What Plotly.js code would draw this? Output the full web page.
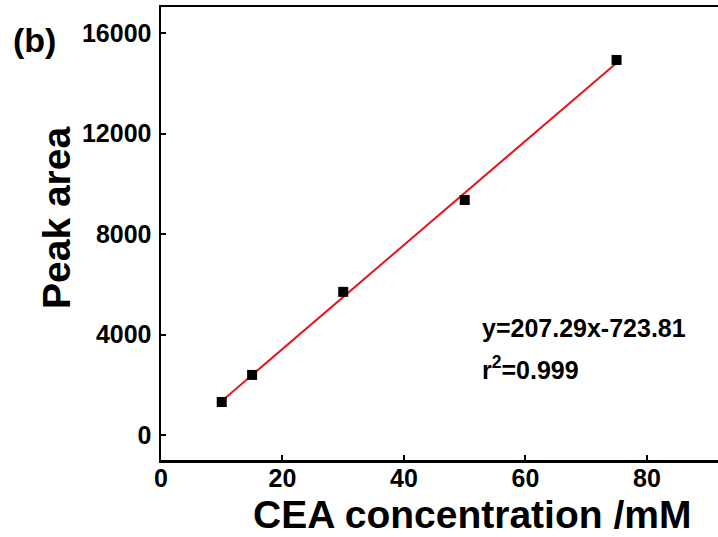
<!DOCTYPE html>
<html>
<head>
<meta charset="utf-8">
<script src="https://cdn.plot.ly/plotly-3.0.1.min.js"></script>
<style>html,body{margin:0;padding:0;background:#fff;}#chart{width:718px;height:537px;}</style>
</head>
<body>
<div id="chart"></div>
<script>
const concentration = [10, 15, 30, 50, 75];
const peakArea = [1310, 2390, 5700, 9360, 14940];
const fitSlope = 207.29;
const fitIntercept = -723.81;
const fitX = [10, 75];
const fitY = fitX.map(x => fitSlope * x + fitIntercept);
const xTicks = [0, 20, 40, 60, 80];
const yTicks = [0, 4000, 8000, 12000, 16000];

const font = 'Liberation Sans, Arial, sans-serif';

const traces = [
  {x: fitX, y: fitY, mode: 'lines', type: 'scatter', line: {color: '#e8141c', width: 2}, hoverinfo: 'skip'},
  {x: concentration, y: peakArea, mode: 'markers', type: 'scatter', marker: {symbol: 'square', size: 10, color: '#000'}}
];

const layout = {
  width: 718, height: 537,
  margin: {l: 161, r: 0, t: 7, b: 77},
  paper_bgcolor: '#fff', plot_bgcolor: '#fff',
  showlegend: false,
  font: {family: font, color: '#000'},
  xaxis: {
    range: [0, 91.7], showgrid: false, zeroline: false,
    showline: true, linecolor: '#000', linewidth: 2.5, mirror: true,
    ticks: 'inside', ticklen: 5, tickwidth: 2, tickcolor: '#000',
    ticklabelstandoff: -6,
    tickvals: xTicks, ticktext: xTicks.map(String),
    tickfont: {family: font, size: 25, color: '#000', weight: 'bold'}
  },
  yaxis: {
    range: [-1000, 17050], showgrid: false, zeroline: false,
    showline: true, linecolor: '#000', linewidth: 2.5,
    ticks: 'inside', ticklen: 5, tickwidth: 2, tickcolor: '#000',
    ticklabelstandoff: 2,
    tickvals: yTicks, ticktext: yTicks.map(String),
    tickfont: {family: font, size: 25, color: '#000', weight: 'bold'}
  },
  annotations: [
    {text: '<b>CEA concentration /mM</b>', xref: 'paper', yref: 'paper', x: 0, y: 0, xanchor: 'center', yanchor: 'middle',
     showarrow: false, font: {family: font, size: 39, color: '#000'}},
    {text: '<b>Peak area</b>', xref: 'paper', yref: 'paper', x: 0, y: 0, xanchor: 'center', yanchor: 'middle', textangle: -90,
     showarrow: false, font: {family: font, size: 39, color: '#000'}},
    {text: '<b>(b)</b>', xref: 'paper', yref: 'paper', x: 0, y: 0, xanchor: 'left', yanchor: 'middle',
     showarrow: false, font: {family: font, size: 34, color: '#000'}},
    {text: '<b>y=207.29x-723.81</b>', xref: 'paper', yref: 'paper', x: 0, y: 0, xanchor: 'left', yanchor: 'middle',
     showarrow: false, font: {family: font, size: 25, color: '#000'}},
    {text: '<b>r<sup>2</sup>=0.999</b>', xref: 'paper', yref: 'paper', x: 0, y: 0, xanchor: 'left', yanchor: 'middle',
     showarrow: false, font: {family: font, size: 25, color: '#000'}}
  ]
};

// place annotations by pixel positions converted to paper coords
const pw = 718 - 161, ph = 537 - 7 - 77;
function px(xp) { return (xp - 161) / pw; }
function py(yp) { return (460 - yp) / ph; }
const pos = [[472, 514], [56, 218], [11, 40], [480, 328], [480, 368]];
layout.annotations.forEach((a, i) => { a.x = px(pos[i][0]); a.y = py(pos[i][1]); });

Plotly.newPlot('chart', traces, layout, {displayModeBar: false, staticPlot: true});
</script>
</body>
</html>
